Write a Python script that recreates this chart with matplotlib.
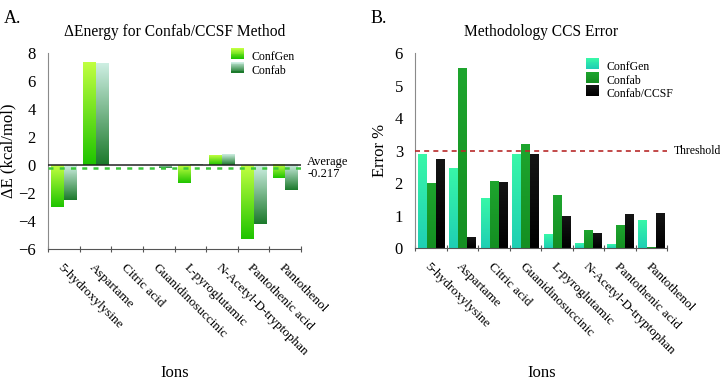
import numpy as np
import matplotlib.pyplot as plt
from matplotlib.colors import LinearSegmentedColormap, to_rgb
from matplotlib.legend_handler import HandlerBase
from matplotlib.patches import Rectangle

plt.rcParams['font.family'] = ['Liberation Serif', 'DejaVu Serif']

ions = ['5-hydroxylysine', 'Aspartame', 'Citric acid', 'Guanidinosuccinic',
        'L-pyroglutamic', 'N-Acetyl-D-tryptophan', 'Pantothenic acid', 'Pantothenol']

# panel A: delta energy (kcal/mol)
de_confgen = [-3.0, 7.35, 0.0, 0.0, -1.25, 0.7, -5.25, -0.95]
de_confab = [-2.5, 7.25, 0.0, -0.2, 0.05, 0.75, -4.2, -1.8]
de_average = -0.217

# panel B: CCS error %
err_confgen = [2.87, 2.43, 1.51, 2.86, 0.43, 0.13, 0.10, 0.85]
err_confab = [1.98, 5.52, 2.04, 3.17, 1.61, 0.54, 0.69, 0.03]
err_ccsf = [2.72, 0.31, 2.00, 2.88, 0.97, 0.44, 1.04, 1.06]
threshold = 3.0

# gradients (top colour, bottom colour)
grad_a_gen = ('#c0ff40', '#1fc400')
grad_a_fab = ('#cdeee2', '#1c7a2c')
grad_b_gen = ('#38f7a8', '#1fcfb4')
grad_b_fab = ('#1ea52e', '#148f22')
grad_b_ccsf = ('#151515', '#000000')

GRAY = '#8a8a8a'


def grad_bar(ax, x, w, v, cols):
    cmap = LinearSegmentedColormap.from_list('g', [to_rgb(c) for c in cols])
    y0, y1 = min(0, v), max(0, v)
    if y1 - y0 < 1e-9:
        return
    img = np.linspace(0, 1, 64).reshape(-1, 1)
    ax.imshow(img, cmap=cmap, aspect='auto', origin='upper',
              extent=[x - w / 2, x + w / 2, y0, y1], zorder=2, interpolation='bilinear')


class GradHandler(HandlerBase):
    def __init__(self, cols):
        super().__init__()
        self.cols = cols

    def create_artists(self, legend, orig, xd, yd, width, height, fontsize, trans):
        c0, c1 = np.array(to_rgb(self.cols[0])), np.array(to_rgb(self.cols[1]))
        n = 12
        arts = []
        for i in range(n):
            t = i / (n - 1)
            c = c0 * (1 - t) + c1 * t
            r = Rectangle((xd, yd + height - (i + 1) * height / n), width, height / n + 0.3,
                          facecolor=c, edgecolor='none', transform=trans)
            arts.append(r)
        return arts


def style_axes(ax, n):
    ax.set_xlim(-0.5, n - 0.5)
    for s in ['top', 'right']:
        ax.spines[s].set_visible(False)
    ax.spines['left'].set_color(GRAY)
    ax.spines['bottom'].set_color('#555555')
    ax.set_xticks(np.arange(n + 1) - 0.5)
    ax.set_xticklabels([])
    ax.tick_params(axis='x', which='major', direction='inout', length=5, color='#555555')
    ax.set_xticks(np.arange(n), ions, minor=True)
    ax.tick_params(axis='x', which='minor', length=0, pad=9, labelsize=9.5)
    for lab in ax.get_xticklabels(minor=True):
        lab.set_rotation(-45)
        lab.set_ha('left')
        lab.set_va('top')
        lab.set_rotation_mode('anchor')
    ax.tick_params(axis='y', length=0, labelsize=12, pad=9)
    # "Ions" axis label placed near the bottom edge like the original
    box = ax.get_position()
    fig.text((box.x0 + box.x1) / 2, 1 - 365 / 382, 'Ions', fontsize=12,
             ha='center', va='top')


fig = plt.figure(figsize=(7.2, 3.82), dpi=100)
axA = fig.add_axes([0.067, 0.348, 0.351, 0.513])
axB = fig.add_axes([0.577, 0.350, 0.350, 0.511])

n = len(ions)
x = np.arange(n)

# ---- A ----
w = 0.4
for i in range(n):
    grad_bar(axA, x[i] - w / 2, w, de_confgen[i], grad_a_gen)
    grad_bar(axA, x[i] + w / 2, w, de_confab[i], grad_a_fab)
axA.axhline(0, color='#222222', lw=1.1, zorder=3)
axA.axhline(de_average, color='#3cc83c', lw=1.8, ls=(0, (2, 2.5)), zorder=4)
style_axes(axA, n)
axA.set_ylim(-6, 8)
axA.set_yticks(np.arange(-6, 9, 2))
axA.set_ylabel('ΔE (kcal/mol)', fontsize=12, labelpad=1)
axA.set_title('ΔEnergy for Confab/CCSF Method', fontsize=11.2, pad=12)
axA.text(1.025, de_average, 'Average\n-0.217', transform=axA.get_yaxis_transform(),
         ha='left', va='center', fontsize=9, linespacing=1.05)
hA = [Rectangle((0, 0), 1, 1), Rectangle((0, 0), 1, 1)]
axA.legend(hA, ['ConfGen', 'Confab'], loc='upper left', bbox_to_anchor=(0.70, 1.04),
           frameon=False, fontsize=8.5, handlelength=1.1, handleheight=1.0,
           handletextpad=0.6, labelspacing=0.1, borderpad=0,
           handler_map={hA[0]: GradHandler(grad_a_gen), hA[1]: GradHandler(grad_a_fab)})

# ---- B ----
w = 0.28
for i in range(n):
    grad_bar(axB, x[i] - w, w, err_confgen[i], grad_b_gen)
    grad_bar(axB, x[i], w, err_confab[i], grad_b_fab)
    grad_bar(axB, x[i] + w, w, err_ccsf[i], grad_b_ccsf)
axB.axhline(threshold, color='#b82a2a', lw=1.2, ls=(0, (3, 2.5)), zorder=4, clip_on=False)
style_axes(axB, n)
axB.set_ylim(0, 6)
axB.set_yticks(np.arange(0, 7, 1))
axB.set_ylabel('Error %', fontsize=12, labelpad=5)
axB.set_title('Methodology CCS Error', fontsize=11.2, pad=12)
axB.text(1.025, threshold, 'Threshold', transform=axB.get_yaxis_transform(),
         ha='left', va='center', fontsize=8.5)
hB = [Rectangle((0, 0), 1, 1) for _ in range(3)]
axB.legend(hB, ['ConfGen', 'Confab', 'Confab/CCSF'], loc='upper left',
           bbox_to_anchor=(0.655, 0.99), frameon=False, fontsize=8.5,
           handlelength=1.1, handleheight=1.0, handletextpad=0.6, labelspacing=0.1,
           borderpad=0,
           handler_map={hB[0]: GradHandler(grad_b_gen), hB[1]: GradHandler(grad_b_fab),
                        hB[2]: GradHandler(grad_b_ccsf)})

fig.text(0.005, 0.975, 'A.', fontsize=13, ha='left', va='top')
fig.text(0.515, 0.975, 'B.', fontsize=13, ha='left', va='top')

fig.savefig('out.png', dpi=100)
